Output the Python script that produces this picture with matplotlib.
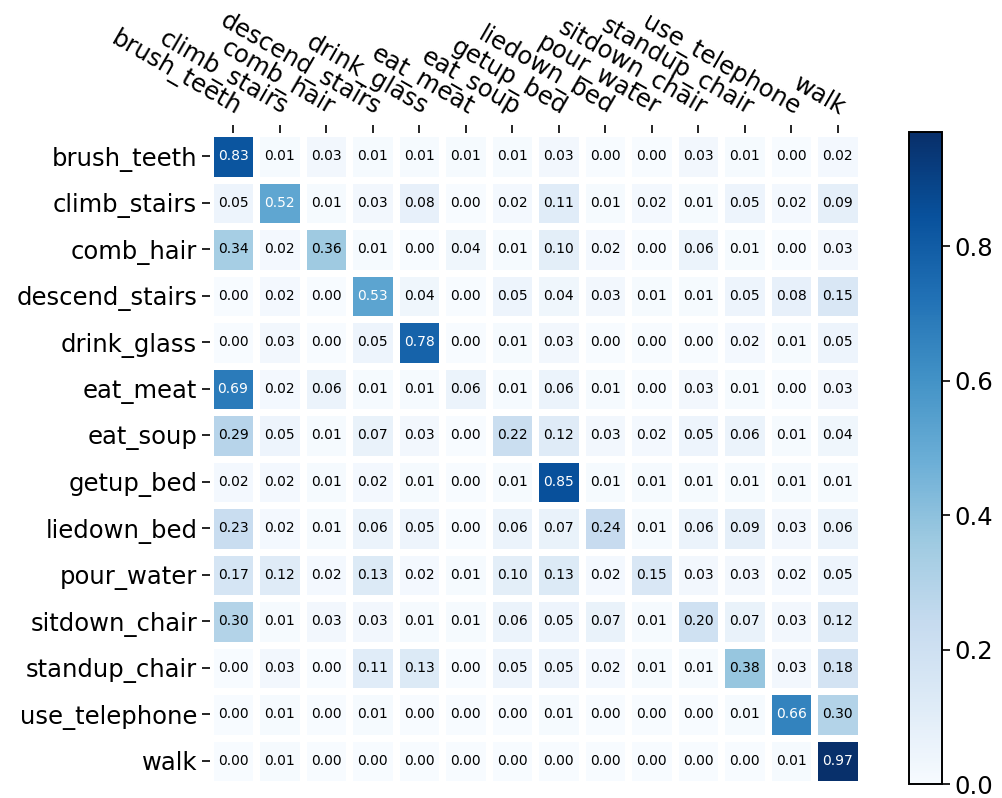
import numpy as np
import matplotlib
matplotlib.use("Agg")
import matplotlib.pyplot as plt

classes = ["brush_teeth", "climb_stairs", "comb_hair", "descend_stairs",
           "drink_glass", "eat_meat", "eat_soup", "getup_bed", "liedown_bed",
           "pour_water", "sitdown_chair", "standup_chair", "use_telephone", "walk"]

row_brush_teeth = [0.83, 0.01, 0.03, 0.01, 0.01, 0.01, 0.01, 0.03, 0.00, 0.00, 0.03, 0.01, 0.00, 0.02]
row_climb_stairs = [0.05, 0.52, 0.01, 0.03, 0.08, 0.00, 0.02, 0.11, 0.01, 0.02, 0.01, 0.05, 0.02, 0.09]
row_comb_hair = [0.34, 0.02, 0.36, 0.01, 0.00, 0.04, 0.01, 0.10, 0.02, 0.00, 0.06, 0.01, 0.00, 0.03]
row_descend_stairs = [0.00, 0.02, 0.00, 0.53, 0.04, 0.00, 0.05, 0.04, 0.03, 0.01, 0.01, 0.05, 0.08, 0.15]
row_drink_glass = [0.00, 0.03, 0.00, 0.05, 0.78, 0.00, 0.01, 0.03, 0.00, 0.00, 0.00, 0.02, 0.01, 0.05]
row_eat_meat = [0.69, 0.02, 0.06, 0.01, 0.01, 0.06, 0.01, 0.06, 0.01, 0.00, 0.03, 0.01, 0.00, 0.03]
row_eat_soup = [0.29, 0.05, 0.01, 0.07, 0.03, 0.00, 0.22, 0.12, 0.03, 0.02, 0.05, 0.06, 0.01, 0.04]
row_getup_bed = [0.02, 0.02, 0.01, 0.02, 0.01, 0.00, 0.01, 0.85, 0.01, 0.01, 0.01, 0.01, 0.01, 0.01]
row_liedown_bed = [0.23, 0.02, 0.01, 0.06, 0.05, 0.00, 0.06, 0.07, 0.24, 0.01, 0.06, 0.09, 0.03, 0.06]
row_pour_water = [0.17, 0.12, 0.02, 0.13, 0.02, 0.01, 0.10, 0.13, 0.02, 0.15, 0.03, 0.03, 0.02, 0.05]
row_sitdown_chair = [0.30, 0.01, 0.03, 0.03, 0.01, 0.01, 0.06, 0.05, 0.07, 0.01, 0.20, 0.07, 0.03, 0.12]
row_standup_chair = [0.00, 0.03, 0.00, 0.11, 0.13, 0.00, 0.05, 0.05, 0.02, 0.01, 0.01, 0.38, 0.03, 0.18]
row_use_telephone = [0.00, 0.01, 0.00, 0.01, 0.00, 0.00, 0.00, 0.01, 0.00, 0.00, 0.00, 0.01, 0.66, 0.30]
row_walk = [0.00, 0.01, 0.00, 0.00, 0.00, 0.00, 0.00, 0.00, 0.00, 0.00, 0.00, 0.00, 0.01, 0.97]

cm = np.array([row_brush_teeth, row_climb_stairs, row_comb_hair, row_descend_stairs,
               row_drink_glass, row_eat_meat, row_eat_soup, row_getup_bed,
               row_liedown_bed, row_pour_water, row_sitdown_chair,
               row_standup_chair, row_use_telephone, row_walk])

W, H = 1002, 798
fig = plt.figure(figsize=(W / 100, H / 100), dpi=100)

# heatmap axes (pixel box -> figure fraction)
hx0, hx1, hy0, hy1 = 209.75, 861.0, 133.0, 784.0
ax = fig.add_axes([hx0 / W, (H - hy1) / H, (hx1 - hx0) / W, (hy1 - hy0) / H])

n = len(classes)
edges = np.arange(n + 1) - 0.5
mesh = ax.pcolormesh(edges, edges, cm, cmap="Blues", vmin=0, vmax=cm.max(),
                     edgecolors="white", linewidth=5)
ax.set_xlim(-0.5, n - 0.5)
ax.set_ylim(n - 0.5, -0.5)

# colorbar
cx0, cx1, cy0, cy1 = 909.0, 942.0, 132.0, 784.0
cax = fig.add_axes([cx0 / W, (H - cy1) / H, (cx1 - cx0) / W, (cy1 - cy0) / H])
cbar = fig.colorbar(mesh, cax=cax)
cbar.set_ticks([0.0, 0.2, 0.4, 0.6, 0.8])
cbar.ax.tick_params(labelsize=17.5, length=5.5, width=1.2)
cbar.outline.set_linewidth(1.4)
cbar.solids.set_edgecolor("face")

ax.set_xticks(np.arange(n))
ax.set_yticks(np.arange(n))
ax.set_xticklabels(classes, fontsize=17.5)
ax.set_yticklabels(classes, fontsize=17.5)
ax.tick_params(top=True, bottom=False, labeltop=True, labelbottom=False,
               length=5.5, width=1.2)
plt.setp(ax.get_xticklabels(), rotation=-30, ha="right", rotation_mode="anchor")

for s in ax.spines.values():
    s.set_visible(False)

thresh = cm.max() / 2.0
for i in range(n):
    for j in range(n):
        ax.text(j, i, f"{cm[i, j]:.2f}", ha="center", va="center", fontsize=10,
                color="white" if cm[i, j] > thresh else "black")

fig.savefig("out.png", dpi=100)
